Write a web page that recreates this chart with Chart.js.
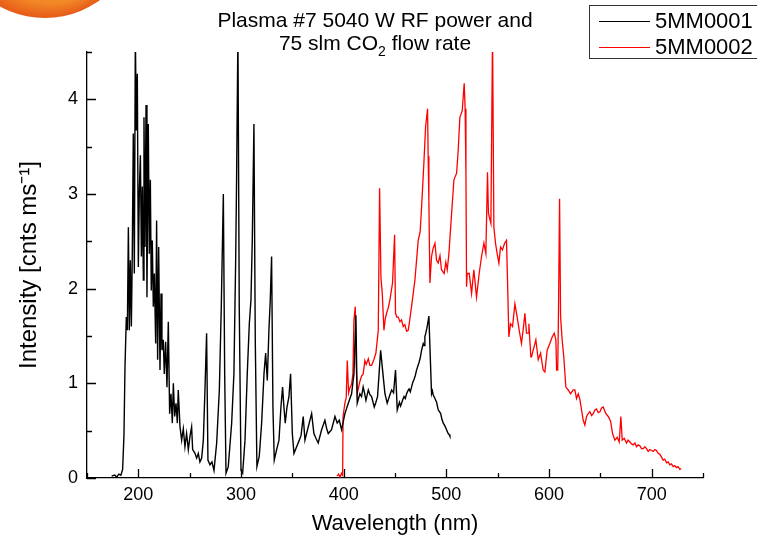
<!DOCTYPE html>
<html>
<head>
<meta charset="utf-8">
<script src="https://cdn.jsdelivr.net/npm/chart.js@4.4.1/dist/chart.umd.min.js"></script>
<style>
  html, body { margin: 0; padding: 0; background: #fff; }
  #wrap { width: 757px; height: 541px; }
</style>
</head>
<body>
<div id="wrap"><canvas id="spectro"></canvas></div>
<script>
// wavelength (nm) / intensity (cnts ms^-1)
const wl1 = [174, 177, 179, 181, 183, 184.7, 186, 187, 188.3, 189.3, 190.3, 191.2, 192.2, 193.2, 194.1, 195.1, 196.1, 197.1, 198, 199,
  200, 201, 202, 203, 203.9, 204.9, 205.5, 206.5, 207.5, 208.4, 209.7, 210.7, 211.7, 212.6, 213.6, 214.6, 215.6, 216.9, 217.8, 218.8,
  219.8, 221.1, 222.1, 223, 224.3, 225.3, 226.6, 227.9, 229.2, 230.5, 231.8, 233.1, 234.1, 235.4, 236.7, 238, 238.9, 240.6, 242.2, 243.8,
  245.4, 247, 248.7, 250.3, 251.9, 252.9, 255.2, 256.8, 258.4, 260, 261.7, 263.3, 264.9, 266.5, 267.8, 269.8, 271.7, 273.7, 276.3, 278.9,
  280.8, 282.8, 284.1, 285.4, 287.6, 290.9, 293.1, 294.8, 295.7, 297, 298.3, 300, 301.6, 303.9, 306.1, 308.1, 309.7, 311, 312.6, 313.9,
  315.5, 317.8, 320.1, 322.4, 324, 325.6, 327.2, 328.5, 329.8, 331.1, 332.4, 334.7, 337, 338.9, 340.5, 341.8, 343.1, 344.8, 346.7, 348.3,
  350, 351.6, 354.2, 356.8, 358.5, 360.6, 362.3, 365.5, 368.8, 371, 373, 375.2, 378.5, 381.7, 383.5, 385, 388.2, 391.5, 393.7, 395.7,
  398, 401.2, 404.5, 407.7, 410, 411.9, 413.2, 415.8, 417.4, 419, 420.3, 421.7, 424, 425.6, 427.2, 429.8, 431.4, 433, 436, 437.9,
  440.2, 442.4, 444.5, 446.7, 448.6, 450.5, 452.2, 454.3, 455.4, 456.4, 457.6, 458.8, 460, 461.3, 462.5, 463.7, 464.9, 466.1, 467.3, 468.5,
  469.7, 471, 472.2, 473.4, 474.6, 475.9, 477.5, 478.3, 479.1, 480, 481, 482, 483, 485.6, 486.4, 487.2, 488.9, 490.5, 492.1, 493.3,
  494.5, 495.7, 497, 498.6, 500.2, 501.8, 502.7, 503.5];
const int1 = [0.02, 0.03, 0.01, 0.04, 0.03, 0.09, 0.45, 1.17, 1.70, 1.56, 2.65, 1.56, 2.30, 1.60, 2.35, 3.64, 2.16, 4.7, 3.67, 4.27,
  2.23, 3.04, 3.41, 2.34, 3.08, 2.09, 3.81, 2.44, 3.94, 1.91, 3.74, 2.37, 3.15, 1.98, 2.51, 1.81, 2.16, 1.42, 2.72, 1.25,
  2.44, 1.14, 1.95, 1.35, 1.46, 1.10, 1.44, 0.96, 1.65, 0.68, 0.89, 0.58, 1.00, 0.65, 0.79, 0.58, 0.93, 0.54, 0.40, 0.52,
  0.33, 0.47, 0.30, 0.44, 0.54, 0.30, 0.26, 0.21, 0.26, 0.17, 0.21, 0.40, 0.93, 1.53, 0.19, 0.14, 0.17, 0.08, 0.37, 0.93,
  1.81, 3.00, 1.10, 0.05, 0.12, 0.58, 1.10, 2.30, 3.15, 4.7, 1.81, 0.08, 0.05, 0.40, 1.10, 1.63, 1.88, 2.51, 3.74, 1.46,
  0.12, 0.23, 0.58, 1.10, 1.32, 1.03, 1.56, 1.88, 2.34, 0.75, 0.19, 0.30, 0.40, 0.75, 0.96, 0.75, 0.58, 0.75, 0.86, 1.10,
  0.47, 0.26, 0.33, 0.40, 0.45, 0.65, 0.40, 0.54, 0.68, 0.47, 0.42, 0.37, 0.51, 0.61, 0.52, 0.47, 0.51, 0.65, 0.58, 0.61,
  0.51, 0.68, 0.79, 0.89, 1.10, 1.72, 0.79, 0.89, 0.86, 0.96, 0.90, 0.82, 0.93, 0.88, 0.86, 0.75, 0.80, 0.86, 1.35, 1.14,
  0.89, 0.79, 0.86, 0.93, 0.90, 1.14, 0.72, 0.80, 0.76, 0.79, 0.83, 0.86, 0.84, 0.89, 0.92, 0.94, 0.91, 0.96, 1.01, 1.04,
  1.08, 1.14, 1.18, 1.22, 1.27, 1.35, 1.42, 1.40, 1.49, 1.53, 1.58, 1.64, 1.71, 0.89, 0.92, 0.88, 0.84, 0.80, 0.72, 0.70,
  0.68, 0.62, 0.58, 0.55, 0.51, 0.47, 0.46, 0.44];

const wl2 = [393.5, 395, 396.5, 398, 399, 399.4, 401.2, 402.5, 403.5, 404.8, 406, 407.7, 409, 410, 411.3, 412.2, 413.2, 415.8, 417.5, 419,
  420.7, 422, 424, 425.5, 427.2, 429.4, 431.4, 433.7, 435, 436.3, 437.6, 439.2, 440.5, 441.8, 443.5, 445, 447.6, 449.6, 450.5, 451.8,
  453.1, 454.8, 456.4, 458, 459.6, 461.3, 462.9, 464.5, 466.1, 469.4, 472.6, 474.5, 475.9, 478.1, 479.8, 481.7, 482.3, 483, 484, 485.6,
  487, 488.9, 490.5, 492.1, 493.8, 495.3, 497.9, 499.5, 500.9, 502.5, 505.1, 507.4, 510, 511.5, 513.2, 515.5, 517.4, 518.3, 519.1, 519.7,
  520.3, 522.3, 524.6, 526.8, 529.4, 532, 534.3, 536.6, 538.5, 540.1, 541, 541.8, 543.4, 545, 546.3, 547.9, 549.5, 551.2, 552.8, 554.7,
  556.7, 558.6, 559.6, 560.9, 562.5, 564.5, 566.8, 569, 571, 573.2, 575.5, 576.5, 578.1, 579.8, 580.4, 582.3, 583, 584.6, 586.3, 587.2,
  589.5, 591.8, 594.3, 596, 598.2, 600.8, 603.1, 605.1, 606.7, 607.4, 608.5, 609.3, 610.3, 611.3, 612.8, 614.4, 616.4, 618.7, 621, 623.6,
  625.2, 626.8, 628.5, 630.1, 631.7, 633.3, 634.9, 636.6, 638.2, 639.8, 641.5, 643.1, 644.7, 646.3, 648, 649.6, 651.2, 652.8, 655.4, 657.7,
  660, 661.9, 664.2, 666.4, 668.4, 670, 671.3, 673.3, 675.5, 677, 678.8, 680.4, 682, 683.7, 685.3, 686.9, 688.5, 690.1, 691.8, 693.4,
  695, 696.6, 698.3, 699.9, 701.5, 703.1, 704.7, 706.4, 708, 709.6, 711.2, 712.8, 714.5, 716.1, 717.7, 719.3, 721, 722.6, 724.2, 725.8,
  727.5, 728.5];
const int2 = [0.02, 0.04, 0.01, 0.05, 0.03, 0.65, 0.79, 0.85, 1.24, 0.90, 0.95, 0.99, 1.10, 1.67, 1.81, 1.20, 0.89, 1.02, 1.08, 1.10,
  1.24, 1.20, 1.26, 1.19, 1.19, 1.25, 1.32, 1.56, 3.06, 2.12, 1.95, 1.56, 1.68, 1.74, 1.80, 1.88, 2.06, 2.57, 1.74, 1.70,
  1.70, 1.65, 1.67, 1.60, 1.62, 1.55, 1.56, 1.68, 1.81, 2.09, 2.51, 2.60, 2.86, 3.32, 3.71, 3.90, 3.40, 2.93, 2.06, 2.34,
  2.42, 2.48, 2.30, 2.27, 2.35, 2.20, 2.16, 2.28, 2.20, 2.37, 2.79, 3.15, 3.22, 3.45, 3.81, 3.88, 4.17, 3.90, 3.22, 2.02,
  2.16, 2.16, 1.95, 2.20, 1.91, 2.16, 2.34, 2.48, 2.37, 3.23, 2.80, 2.76, 2.69, 4.7, 2.65, 2.48, 2.37, 2.27, 2.44, 2.41,
  2.48, 2.51, 2.09, 1.49, 1.63, 1.60, 1.84, 1.70, 1.56, 1.42, 1.63, 1.74, 1.53, 1.53, 1.63, 1.28, 1.28, 1.35, 1.42, 1.46,
  1.25, 1.32, 1.14, 1.12, 1.35, 1.42, 1.49, 1.53, 1.46, 1.14, 1.14, 1.81, 2.95, 1.70, 1.46, 1.28, 0.96, 0.93, 0.89, 0.93,
  0.93, 0.84, 0.89, 0.83, 0.72, 0.61, 0.56, 0.65, 0.68, 0.70, 0.66, 0.68, 0.72, 0.73, 0.69, 0.70, 0.74, 0.75, 0.68, 0.65,
  0.60, 0.47, 0.40, 0.43, 0.38, 0.65, 0.40, 0.42, 0.37, 0.40, 0.38, 0.36, 0.35, 0.37, 0.33, 0.35, 0.34, 0.31, 0.31, 0.33,
  0.31, 0.28, 0.30, 0.29, 0.28, 0.30, 0.29, 0.26, 0.25, 0.22, 0.19, 0.20, 0.16, 0.17, 0.14, 0.15, 0.12, 0.13, 0.11, 0.12,
  0.09, 0.10];

const seriesNames = ['5MM0001', '5MM0002'];
const seriesColors = ['#000000', '#ff0000'];
const titleLine1 = 'Plasma #7 5040 W RF power and';
const titleLine2 = ['75 slm CO', '2', ' flow rate'];

const FONT = 'Liberation Sans, Arial, sans-serif';

function toPoints(xs, ys) {
  return xs.map((x, i) => ({ x: x, y: ys[i] }));
}

// orange logo bit peeking in at the top-left corner
const logoBlob = {
  id: 'logoBlob',
  beforeDraw(chart) {
    const ctx = chart.ctx;
    ctx.save();
    const g = ctx.createRadialGradient(70, -50, 10, 45, -75, 93);
    g.addColorStop(0, '#f9b43a');
    g.addColorStop(0.75, '#f28726');
    g.addColorStop(1, '#e75a18');
    ctx.fillStyle = g;
    ctx.beginPath();
    ctx.arc(45, -75, 93, 0, Math.PI * 2);
    ctx.fill();
    ctx.restore();
  }
};

// two-line title with a real subscript 2 in CO2
const plotTitle = {
  id: 'plotTitle',
  afterDraw(chart) {
    const ctx = chart.ctx;
    const cx = 375;
    ctx.save();
    ctx.fillStyle = '#000';
    ctx.textBaseline = 'alphabetic';
    ctx.font = '21px ' + FONT;
    ctx.textAlign = 'center';
    ctx.fillText(titleLine1, cx, 27);
    ctx.textAlign = 'left';
    const w1 = ctx.measureText(titleLine2[0]).width;
    const w3 = ctx.measureText(titleLine2[2]).width;
    ctx.font = '14px ' + FONT;
    const w2 = ctx.measureText(titleLine2[1]).width;
    let x = cx - (w1 + w2 + w3) / 2;
    ctx.font = '21px ' + FONT;
    ctx.fillText(titleLine2[0], x, 50);
    x += w1;
    ctx.font = '14px ' + FONT;
    ctx.fillText(titleLine2[1], x, 56);
    x += w2;
    ctx.font = '21px ' + FONT;
    ctx.fillText(titleLine2[2], x, 50);
    ctx.restore();
  }
};

// tick marks pointing into the plot, long on labelled ticks
const inwardTicks = {
  id: 'inwardTicks',
  afterDraw(chart) {
    const ctx = chart.ctx;
    const xs = chart.scales.x, ys = chart.scales.y;
    const area = chart.chartArea;
    ctx.save();
    ctx.strokeStyle = '#000';
    ctx.lineWidth = 1.3;
    ctx.beginPath();
    xs.ticks.forEach(t => {
      const px = Math.round(xs.getPixelForValue(t.value)) + 0.5;
      const len = t.value % 100 === 0 ? 9 : 5;
      ctx.moveTo(px, area.bottom);
      ctx.lineTo(px, area.bottom - len);
    });
    ys.ticks.forEach(t => {
      const py = Math.round(ys.getPixelForValue(t.value)) + 0.5;
      const len = Number.isInteger(t.value) ? 9 : 5;
      ctx.moveTo(area.left, py);
      ctx.lineTo(area.left + len, py);
    });
    ctx.stroke();
    ctx.restore();
  }
};

// boxed legend in the top-right corner
const boxLegend = {
  id: 'boxLegend',
  afterDraw(chart) {
    const ctx = chart.ctx;
    ctx.save();
    ctx.fillStyle = '#fff';
    ctx.fillRect(589, 5, 200, 53);
    ctx.strokeStyle = '#333';
    ctx.lineWidth = 1;
    ctx.strokeRect(589.5, 5.5, 200, 53);
    ctx.font = '22px ' + FONT;
    ctx.textBaseline = 'middle';
    chart.data.datasets.forEach((ds, i) => {
      const y = 21 + i * 26;
      ctx.strokeStyle = ds.borderColor;
      ctx.lineWidth = 1;
      ctx.beginPath();
      ctx.moveTo(599, y + 0.5);
      ctx.lineTo(650, y + 0.5);
      ctx.stroke();
      ctx.fillStyle = '#000';
      ctx.fillText(ds.label, 655, y + 1);
    });
    ctx.restore();
  }
};

new Chart(document.getElementById('spectro'), {
  type: 'line',
  data: {
    datasets: [
      {
        label: seriesNames[0],
        data: toPoints(wl1, int1),
        borderColor: seriesColors[0],
        borderWidth: 1.4,
        pointRadius: 0,
        tension: 0
      },
      {
        label: seriesNames[1],
        data: toPoints(wl2, int2),
        borderColor: seriesColors[1],
        borderWidth: 1.3,
        pointRadius: 0,
        tension: 0
      }
    ]
  },
  options: {
    responsive: true,
    maintainAspectRatio: false,
    animation: false,
    layout: { padding: { top: 52, right: 54 } },
    plugins: {
      legend: { display: false },
      tooltip: { enabled: false },
      title: { display: false }
    },
    scales: {
      x: {
        type: 'linear',
        min: 150,
        max: 750,
        afterFit: s => { s.height = 63; },
        grid: { display: false, drawTicks: false },
        border: { display: true, color: '#000', width: 1.3 },
        ticks: {
          stepSize: 50,
          padding: 6,
          color: '#000',
          font: { family: FONT, size: 18 },
          maxRotation: 0,
          autoSkip: false,
          callback: v => (v % 100 === 0 ? v : '')
        },
        title: {
          display: true,
          text: 'Wavelength (nm)',
          color: '#000',
          font: { family: FONT, size: 22 },
          padding: { top: 0, bottom: 4 }
        }
      },
      y: {
        min: 0,
        max: 4.5,
        afterFit: s => { s.width = 87; },
        grid: { display: false, drawTicks: false },
        border: { display: true, color: '#000', width: 1.3 },
        ticks: {
          stepSize: 0.5,
          padding: 9,
          color: '#000',
          font: { family: FONT, size: 18 },
          autoSkip: false,
          callback: v => (Number.isInteger(v) ? v : '')
        },
        title: {
          display: true,
          text: 'Intensity [cnts ms\u207B\u00B9]',
          color: '#000',
          font: { family: FONT, size: 24 },
          padding: { top: 15, bottom: 0 }
        }
      }
    }
  },
  plugins: [logoBlob, inwardTicks, plotTitle, boxLegend]
});
</script>
</body>
</html>
